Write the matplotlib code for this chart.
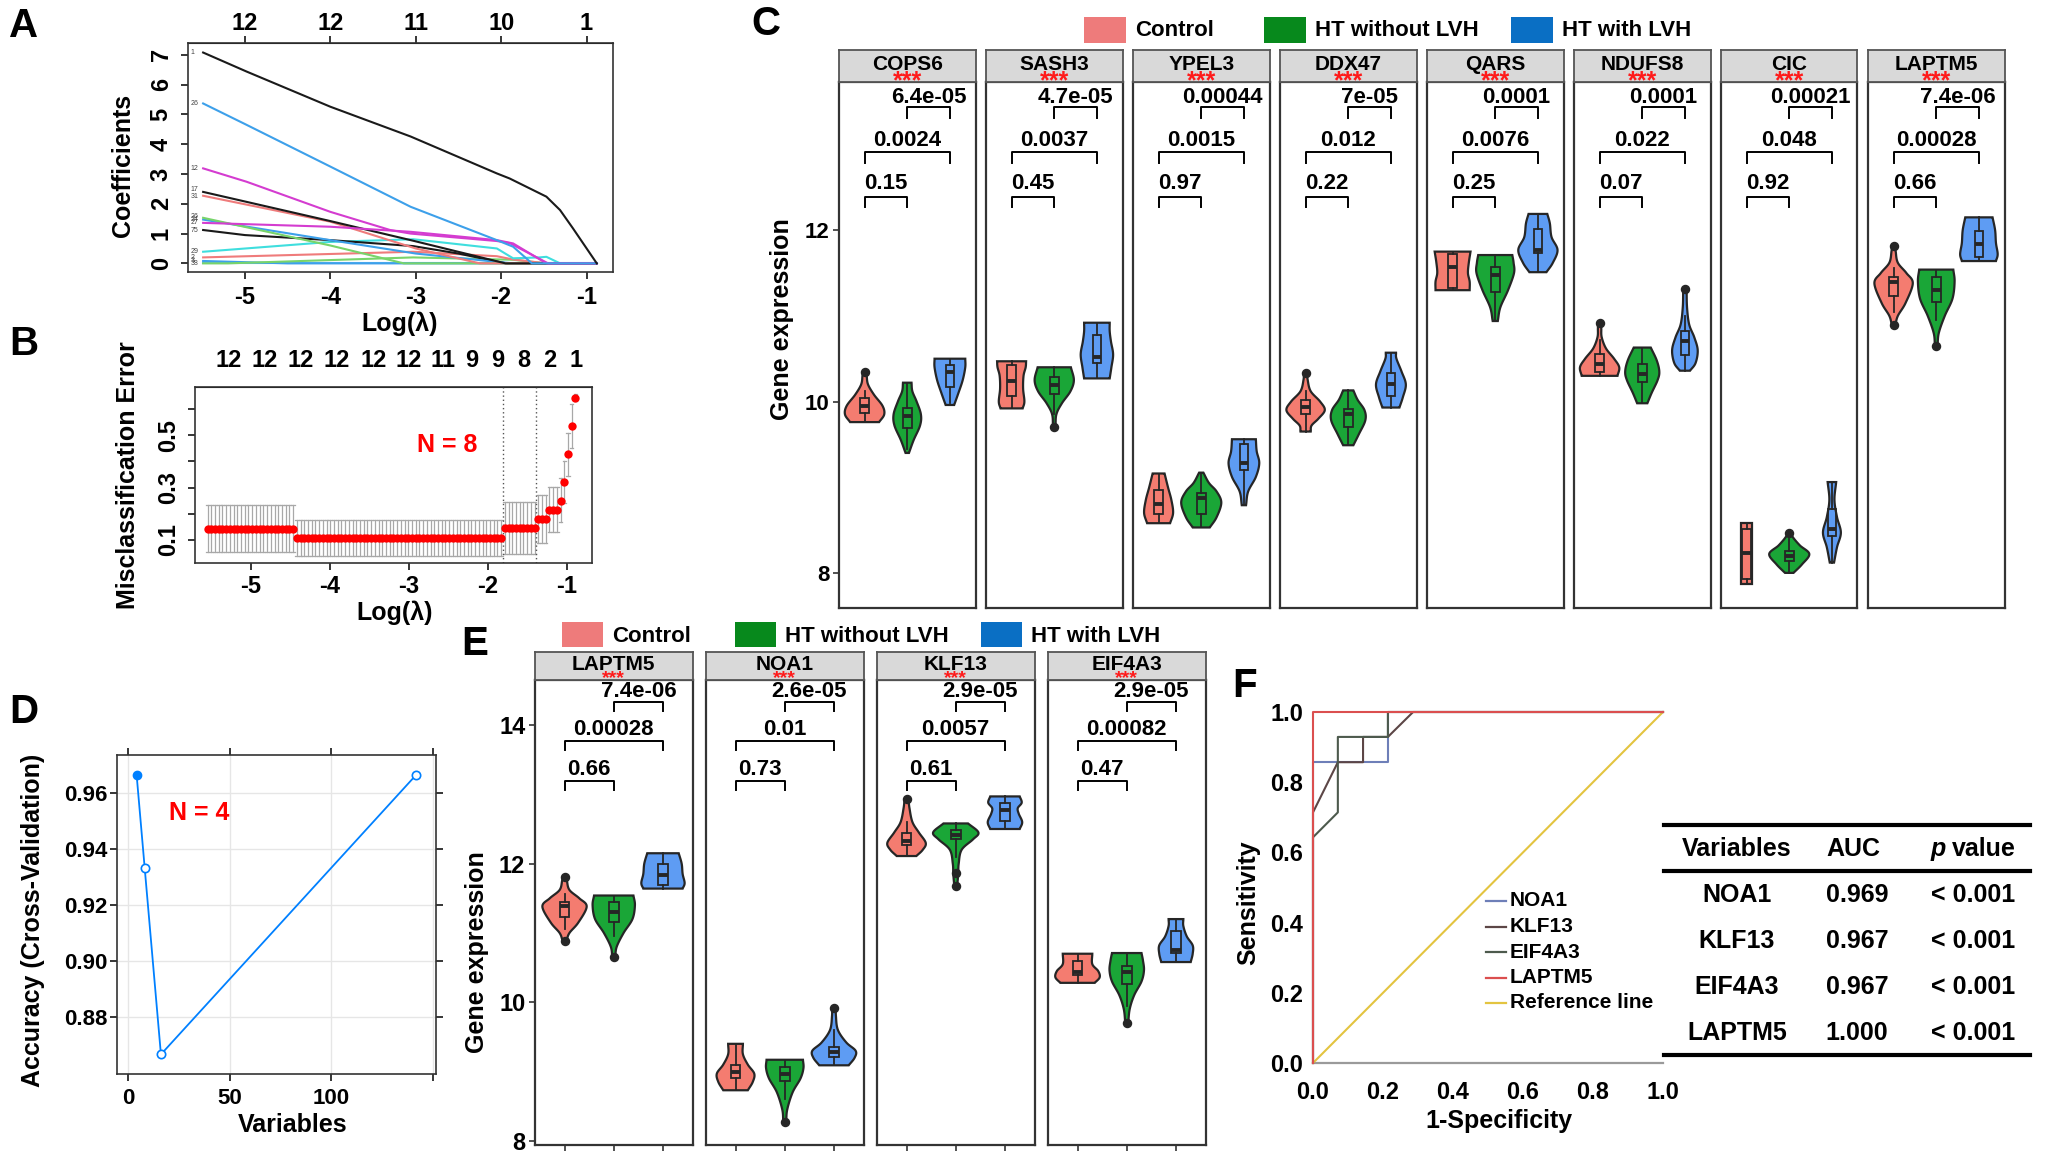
import numpy as np
import matplotlib
matplotlib.use('Agg')
import matplotlib.pyplot as plt
from matplotlib.patches import Rectangle, Polygon
from matplotlib.lines import Line2D

W, H = 2050, 1161
plt.rcParams['font.family'] = ['Liberation Sans', 'DejaVu Sans']
plt.rcParams['font.weight'] = 'bold'
plt.rcParams['axes.unicode_minus'] = False
fig = plt.figure(figsize=(W / 100, H / 100), dpi=100)

# ------------------------------------------------------------------ data
# Panel A: LASSO coefficient paths (log lambda, coefficient)
A_top_labels = ['12', '12', '11', '10', '1']
A_black1_x = [-5.49, -4.98, -4.0, -3.06, -2.05, -1.90, -1.47, -1.31, -1.16, -0.88]
A_black1_y = [7.08, 6.44, 5.26, 4.26, 3.02, 2.85, 2.24, 1.79, 1.18, 0.0]
A_blue1_x = [-5.49, -4.98, -4.0, -3.06, -2.05, -1.86, -1.64, -0.88]
A_blue1_y = [5.37, 4.65, 3.25, 1.90, 0.78, 0.56, 0.0, 0.0]
A_mag1_x = [-5.49, -4.98, -4.0, -3.3, -3.06, -2.05, -1.9, -1.45, -0.88]
A_mag1_y = [3.19, 2.74, 1.73, 1.12, 1.0, 0.75, 0.68, 0.0, 0.0]
A_mag2_x = [-5.49, -4.0, -3.06, -2.05, -1.86, -1.47, -0.88]
A_mag2_y = [1.36, 1.23, 1.06, 0.78, 0.67, 0.0, 0.0]
A_black2_x = [-5.49, -4.0, -3.03, -2.05, -1.95, -0.88]
A_black2_y = [2.40, 1.42, 0.76, 0.07, 0.0, 0.0]
A_salmon1_x = [-5.49, -4.0, -3.0, -2.25, -0.88]
A_salmon1_y = [2.27, 1.40, 0.50, 0.0, 0.0]
A_green1_x = [-5.49, -4.0, -3.14, -0.88]
A_green1_y = [1.53, 0.60, 0.0, 0.0]
A_blue2_x = [-5.49, -4.0, -3.0, -2.05, -1.86, -0.88]
A_blue2_y = [1.47, 0.78, 0.33, 0.05, 0.0, 0.0]
A_black3_x = [-5.49, -5.0, -4.0, -3.03, -2.5, -2.05, -1.93, -0.88]
A_black3_y = [1.12, 0.95, 0.78, 0.58, 0.33, 0.06, 0.0, 0.0]
A_cyan_x = [-5.49, -4.0, -3.03, -2.05, -1.86, -1.55, -1.47, -1.31, -0.88]
A_cyan_y = [0.39, 0.72, 0.81, 0.50, 0.17, 0.20, 0.22, 0.0, 0.0]
A_salmon2_x = [-5.49, -3.03, -2.05, -1.86, -1.47, -0.88]
A_salmon2_y = [0.20, 0.39, 0.24, 0.13, 0.0, 0.0]
A_green2_x = [-5.49, -5.2, -3.03, -2.0, -1.86, -1.47, -0.88]
A_green2_y = [0.0, 0.0, 0.20, 0.13, 0.12, 0.0, 0.0]
A_blue3_x = [-5.49, -4.5, -0.88]
A_blue3_y = [0.08, 0.0, 0.0]
A_zero_x = [-5.49, -0.88]
A_zero_y = [0.0, 0.0]
A_path_labels = ['1', '26', '12', '17', '31', '26', '24', '27', '75', '29', '2', '3', '38']
A_path_label_y = [7.08, 5.37, 3.19, 2.47, 2.25, 1.58, 1.47, 1.36, 1.12, 0.39, 0.20, 0.08, -0.02]

# Panel B: cross-validated misclassification error (runs along the lambda grid)
B_loglam = np.linspace(-5.55, -0.89, 100)
B_run_lengths = [24, 56, 9, 3, 3, 1, 1, 1, 1, 1]
B_err = [0.143, 0.108, 0.146, 0.180, 0.215, 0.250, 0.321, 0.428, 0.535, 0.642]
B_lo = [0.053, 0.038, 0.047, 0.090, 0.130, 0.168, 0.240, 0.345, 0.452, 0.630]
B_hi = [0.233, 0.177, 0.245, 0.272, 0.302, 0.335, 0.400, 0.510, 0.620, 0.656]
B_top_pos = [-5.28, -4.83, -4.37, -3.91, -3.45, -3.0, -2.57, -2.20, -1.87, -1.55, -1.22, -0.88]
B_top_labels = ['12', '12', '12', '12', '12', '12', '11', '9', '9', '8', '2', '1']
B_vlines = [-1.81, -1.39]

# Panel D: RFE accuracy
D_vars = [4, 8, 16, 142]
D_acc = [0.9667, 0.9333, 0.8667, 0.9667]

# Groups
groups = ['Control', 'HT without LVH', 'HT with LVH']
legend_colors = ['#EE7B7B', '#07891C', '#0A6FC4']
violin_colors = ['#F47C70', '#1AA637', '#5E9CF3']

# Violin profiles: (expression, half width) from bottom to top; box = (q1, median, q3, low, high)
COPS6_violin = [[(9.76, 0.34), (9.85, 0.46), (9.95, 0.42), (10.08, 0.22), (10.2, 0.08), (10.3, 0.05), (10.34, 0.04)],
                [(9.40, 0.04), (9.55, 0.15), (9.72, 0.30), (9.85, 0.32), (10.0, 0.22), (10.12, 0.12), (10.22, 0.10)],
                [(9.96, 0.10), (10.1, 0.20), (10.25, 0.30), (10.4, 0.36), (10.5, 0.36)]]
COPS6_box = [(9.87, 9.95, 10.04, 9.76, 10.12), (9.69, 9.83, 9.93, 9.45, 10.22), (10.17, 10.34, 10.43, 9.98, 10.5)]
COPS6_out = [[10.34], [], []]
COPS6_p = ['0.15', '0.0024', '6.4e-05']

SASH3_violin = [[(9.92, 0.26), (10.0, 0.30), (10.15, 0.27), (10.3, 0.28), (10.4, 0.33), (10.47, 0.34)],
                [(9.70, 0.03), (9.85, 0.05), (9.98, 0.18), (10.12, 0.38), (10.25, 0.46), (10.40, 0.39)],
                [(10.27, 0.30), (10.4, 0.34), (10.55, 0.38), (10.7, 0.33), (10.82, 0.30), (10.92, 0.30)]]
SASH3_box = [(10.06, 10.24, 10.43, 9.92, 10.47), (10.09, 10.19, 10.29, 9.85, 10.40), (10.45, 10.52, 10.78, 10.27, 10.92)]
SASH3_out = [[], [9.70], []]
SASH3_p = ['0.45', '0.0037', '4.7e-05']

YPEL3_violin = [[(8.58, 0.27), (8.7, 0.34), (8.85, 0.30), (9.0, 0.22), (9.16, 0.14)],
                [(8.53, 0.20), (8.65, 0.36), (8.82, 0.47), (8.95, 0.36), (9.05, 0.18), (9.17, 0.05)],
                [(8.79, 0.05), (8.95, 0.10), (9.12, 0.28), (9.28, 0.36), (9.42, 0.30), (9.56, 0.28)]]
YPEL3_box = [(8.69, 8.80, 8.97, 8.58, 9.16), (8.69, 8.87, 8.93, 8.53, 9.17), (9.20, 9.28, 9.51, 8.79, 9.56)]
YPEL3_out = [[], [], []]
YPEL3_p = ['0.97', '0.0015', '0.00044']

DDX47_violin = [[(9.65, 0.12), (9.72, 0.14), (9.80, 0.30), (9.90, 0.45), (10.0, 0.34), (10.12, 0.12), (10.25, 0.05), (10.33, 0.04)],
                [(9.49, 0.12), (9.62, 0.25), (9.78, 0.40), (9.90, 0.38), (10.02, 0.22), (10.13, 0.12)],
                [(9.93, 0.20), (10.05, 0.28), (10.2, 0.35), (10.35, 0.25), (10.5, 0.13), (10.57, 0.12)]]
DDX47_box = [(9.85, 9.94, 10.02, 9.65, 10.12), (9.70, 9.86, 9.91, 9.49, 10.13), (10.07, 10.20, 10.33, 9.93, 10.57)]
DDX47_out = [[10.33], [], []]
DDX47_p = ['0.22', '0.012', '7e-05']

QARS_violin = [[(11.30, 0.40), (11.4, 0.40), (11.5, 0.36), (11.62, 0.38), (11.75, 0.42)],
               [(10.94, 0.06), (11.1, 0.12), (11.3, 0.30), (11.5, 0.44), (11.62, 0.43), (11.71, 0.40)],
               [(11.51, 0.20), (11.62, 0.35), (11.77, 0.46), (11.92, 0.32), (12.08, 0.28), (12.19, 0.22)]]
QARS_box = [(11.32, 11.57, 11.72, 11.30, 11.75), (11.28, 11.48, 11.57, 10.94, 11.71), (11.73, 11.77, 12.01, 11.51, 12.19)]
QARS_out = [[], [], []]
QARS_p = ['0.25', '0.0076', '0.0001']

NDUFS8_violin = [[(10.30, 0.42), (10.4, 0.46), (10.5, 0.34), (10.62, 0.15), (10.75, 0.05), (10.85, 0.04), (10.92, 0.04)],
                 [(9.98, 0.12), (10.1, 0.22), (10.25, 0.36), (10.35, 0.40), (10.48, 0.34), (10.63, 0.20)],
                 [(10.36, 0.12), (10.45, 0.25), (10.6, 0.30), (10.75, 0.22), (10.9, 0.10), (11.1, 0.05), (11.31, 0.04)]]
NDUFS8_box = [(10.34, 10.44, 10.56, 10.30, 10.72), (10.23, 10.32, 10.44, 9.98, 10.63), (10.54, 10.71, 10.82, 10.36, 11.0)]
NDUFS8_out = [[10.92], [], [11.31]]
NDUFS8_p = ['0.07', '0.022', '0.0001']

CIC_violin = [[(7.87, 0.13), (8.2, 0.13), (8.58, 0.13)],
              [(8.0, 0.10), (8.1, 0.30), (8.22, 0.47), (8.32, 0.25), (8.42, 0.08), (8.47, 0.05)],
              [(8.12, 0.05), (8.3, 0.12), (8.47, 0.21), (8.65, 0.12), (8.85, 0.06), (9.06, 0.10)]]
CIC_box = [(7.93, 8.23, 8.51, 7.87, 8.58), (8.14, 8.20, 8.25, 8.0, 8.40), (8.43, 8.51, 8.75, 8.12, 9.06)]
CIC_out = [[], [8.47], []]
CIC_p = ['0.92', '0.048', '0.00021']

LAPTM5_violin = [[(10.89, 0.04), (11.0, 0.10), (11.15, 0.28), (11.38, 0.45), (11.5, 0.30), (11.62, 0.10), (11.75, 0.05), (11.81, 0.04)],
                 [(10.65, 0.03), (10.8, 0.06), (11.0, 0.20), (11.2, 0.38), (11.4, 0.43), (11.54, 0.40)],
                 [(11.64, 0.40), (11.72, 0.44), (11.85, 0.40), (12.0, 0.38), (12.15, 0.32)]]
LAPTM5_box = [(11.23, 11.39, 11.45, 11.05, 11.56), (11.16, 11.30, 11.45, 10.95, 11.54), (11.69, 11.84, 11.99, 11.64, 12.15)]
LAPTM5_out = [[10.89, 11.81], [10.65], []]
LAPTM5_p = ['0.66', '0.00028', '7.4e-06']

NOA1_violin = [[(8.73, 0.25), (8.85, 0.35), (8.97, 0.38), (9.1, 0.25), (9.25, 0.15), (9.40, 0.15)],
               [(8.27, 0.03), (8.45, 0.05), (8.7, 0.16), (8.9, 0.32), (9.05, 0.38), (9.17, 0.37)],
               [(9.09, 0.30), (9.2, 0.42), (9.3, 0.44), (9.42, 0.25), (9.6, 0.08), (9.8, 0.04), (9.91, 0.04)]]
NOA1_box = [(8.90, 9.0, 9.09, 8.73, 9.40), (8.87, 8.97, 9.07, 8.6, 9.17), (9.21, 9.28, 9.35, 9.09, 9.6)]
NOA1_out = [[], [8.27], [9.91]]
NOA1_p = ['0.73', '0.01', '2.6e-05']

KLF13_violin = [[(12.11, 0.20), (12.2, 0.33), (12.3, 0.39), (12.45, 0.25), (12.6, 0.12), (12.8, 0.06), (12.93, 0.04)],
                [(11.68, 0.03), (11.85, 0.05), (12.0, 0.06), (12.2, 0.12), (12.35, 0.35), (12.45, 0.46), (12.58, 0.25)],
                [(12.50, 0.30), (12.6, 0.35), (12.72, 0.28), (12.8, 0.26), (12.88, 0.34), (12.97, 0.30)]]
KLF13_box = [(12.27, 12.32, 12.44, 12.11, 12.6), (12.35, 12.42, 12.49, 12.1, 12.58), (12.61, 12.77, 12.88, 12.50, 12.97)]
KLF13_out = [[12.93], [11.68, 11.87], []]
KLF13_p = ['0.61', '0.0057', '2.9e-05']

EIF4A3_violin = [[(10.28, 0.35), (10.36, 0.45), (10.45, 0.42), (10.55, 0.30), (10.70, 0.30)],
                 [(9.70, 0.03), (9.9, 0.06), (10.1, 0.15), (10.3, 0.30), (10.46, 0.35), (10.6, 0.33), (10.71, 0.30)],
                 [(10.58, 0.30), (10.7, 0.34), (10.82, 0.34), (10.95, 0.22), (11.1, 0.15), (11.20, 0.15)]]
EIF4A3_box = [(10.39, 10.43, 10.59, 10.28, 10.70), (10.26, 10.43, 10.52, 9.95, 10.71), (10.71, 10.76, 11.03, 10.58, 11.20)]
EIF4A3_out = [[], [9.70], []]
EIF4A3_p = ['0.47', '0.00082', '2.9e-05']

C_genes = ['COPS6', 'SASH3', 'YPEL3', 'DDX47', 'QARS', 'NDUFS8', 'CIC', 'LAPTM5']
E_genes = ['LAPTM5', 'NOA1', 'KLF13', 'EIF4A3']
C_yticks = [8, 10, 12]
E_yticks = [8, 10, 12, 14]

# Panel F: ROC curves (1-specificity, sensitivity)
F_noa1_x = [0, 0, 0.214, 0.214, 1]
F_noa1_y = [0, 0.857, 0.857, 1.0, 1.0]
F_klf13_x = [0, 0, 0.071, 0.143, 0.143, 0.214, 0.286, 1]
F_klf13_y = [0, 0.714, 0.857, 0.857, 0.929, 0.929, 1.0, 1.0]
F_eif4a3_x = [0, 0, 0.071, 0.071, 0.214, 0.214, 1]
F_eif4a3_y = [0, 0.643, 0.714, 0.929, 0.929, 1.0, 1.0]
F_laptm5_x = [0, 0, 1]
F_laptm5_y = [0, 1.0, 1.0]
F_ref_x = [0, 1]
F_ref_y = [0, 1]
F_names = ['NOA1', 'KLF13', 'EIF4A3', 'LAPTM5', 'Reference line']
F_colors = ['#6E7FB8', '#5C4646', '#4D5A4D', '#DB4F4F', '#E3C440']
T_vars = ['NOA1', 'KLF13', 'EIF4A3', 'LAPTM5']
T_auc = ['0.969', '0.967', '0.967', '1.000']
T_p = ['< 0.001', '< 0.001', '< 0.001', '< 0.001']


# ------------------------------------------------------------------ helpers
def rect(l, t, r, b):
    return [l / W, 1 - b / H, (r - l) / W, (b - t) / H]


def ftext(x, y, s, **kw):
    kw.setdefault('ha', 'center')
    kw.setdefault('va', 'center')
    fig.text(x / W, 1 - y / H, s, **kw)


def fline(x1, y1, x2, y2, **kw):
    fig.add_artist(Line2D([x1 / W, x2 / W], [1 - y1 / H, 1 - y2 / H], **kw))


def frect(l, t, r, b, **kw):
    fig.add_artist(Rectangle((l / W, 1 - b / H), (r - l) / W, (b - t) / H,
                             transform=fig.transFigure, **kw))


def catmull(points, n=14):
    P = np.array(points, float)
    if len(P) < 3:
        return P
    P2 = np.vstack([2 * P[0] - P[1], P, 2 * P[-1] - P[-2]])
    out = []
    for i in range(1, len(P2) - 2):
        p0, p1, p2, p3 = P2[i - 1], P2[i], P2[i + 1], P2[i + 2]
        for t in np.linspace(0, 1, n, endpoint=False):
            t2 = t * t
            t3 = t2 * t
            out.append(0.5 * ((2 * p1) + (-p0 + p2) * t + (2 * p0 - 5 * p1 + 4 * p2 - p3) * t2
                              + (-p0 + 3 * p1 - 3 * p2 + p3) * t3))
    out.append(P[-1])
    return np.array(out)


EC = '#262626'


def violin(ax, c, knots, box, outs, fill):
    pts = catmull(knots)
    ys = pts[:, 0]
    ws = np.clip(pts[:, 1], 0.012, None)
    verts = np.concatenate([np.column_stack([c + ws, ys]),
                            np.column_stack([c - ws[::-1], ys[::-1]])])
    ax.add_patch(Polygon(verts, closed=True, facecolor=fill, edgecolor=EC, lw=1.6, zorder=2))
    q1, med, q3, lo, hi = box
    bw = 0.1
    ax.plot([c, c], [q3, hi], color=EC, lw=1.3, zorder=3)
    ax.plot([c, c], [lo, q1], color=EC, lw=1.3, zorder=3)
    ax.add_patch(Rectangle((c - bw, q1), 2 * bw, q3 - q1, facecolor='none', edgecolor=EC, lw=1.3, zorder=3))
    ax.plot([c - bw, c + bw], [med, med], color=EC, lw=2.8, zorder=3, solid_capstyle='butt')
    for o in outs:
        ax.plot(c, o, 'o', color=EC, ms=5.8, zorder=4)


def brackets(ax, pvals, levels, fs):
    pairs = [(1, 2), (1, 3), (2, 3)]
    for (a, b), p, (top, leg, ty) in zip(pairs, pvals, levels):
        ax.plot([a, a, b, b], [leg, top, top, leg], color='black', lw=1.4, zorder=3)
        ax.text((a + b) / 2, ty, p, ha='center', va='center', fontsize=fs, fontweight='bold')


def facet_panels(genes, lefts, width, top, strip_top, bottom, ylim, yticks, levels, xticks,
                 stars_y, stars_fs, tick_fs):
    for i, g in enumerate(genes):
        l = lefts[i]
        r = l + width
        ax = fig.add_axes(rect(l, top, r, bottom))
        ax.set_xlim(0.4, 3.6)
        ax.set_ylim(*ylim)
        for s in ax.spines.values():
            s.set_color('#333333')
            s.set_linewidth(1.6)
        vio = globals()[g + '_violin']
        bxs = globals()[g + '_box']
        outs = globals()[g + '_out']
        for k in range(3):
            violin(ax, k + 1, vio[k], bxs[k], outs[k], violin_colors[k])
        brackets(ax, globals()[g + '_p'], levels, 16)
        ax.set_yticks(yticks)
        if i == 0:
            ax.set_yticklabels([str(t) for t in yticks])
            ax.tick_params(axis='y', length=4, width=1.2, pad=3, labelsize=tick_fs, colors='#333333',
                           labelcolor='black')
        else:
            ax.tick_params(axis='y', length=0, labelleft=False)
        if xticks:
            ax.set_xticks([1, 2, 3])
            ax.tick_params(axis='x', length=4, width=1.2, labelbottom=False, colors='#333333')
        else:
            ax.set_xticks([])
        # strip
        sax = fig.add_axes(rect(l, strip_top, r, top))
        sax.set_facecolor('#D9D9D9')
        sax.set_xticks([])
        sax.set_yticks([])
        for s in sax.spines.values():
            s.set_color('#555555')
            s.set_linewidth(1.3)
        ftext((l + r) / 2, (strip_top + top) / 2 - 1, g, fontsize=15, fontweight='bold')
        # asterisks: glyph sits high in the em box, so place by baseline
        ftext((l + r) / 2, stars_y + 0.57 * stars_fs * 100 / 72, '***', fontsize=stars_fs,
              color='#FF1A1A', fontweight='bold', va='baseline')


# ------------------------------------------------------------------ Panel A
axA = fig.add_axes(rect(188, 43, 613, 272))
A_series = [
    (A_zero_x, A_zero_y, '#5CB6F2'),
    (A_blue3_x, A_blue3_y, '#3DA0EA'),
    (A_green2_x, A_green2_y, '#78D46A'),
    (A_salmon2_x, A_salmon2_y, '#EF7B7B'),
    (A_cyan_x, A_cyan_y, '#3FDEDE'),
    (A_black3_x, A_black3_y, '#1A1A1A'),
    (A_blue2_x, A_blue2_y, '#3DA0EA'),
    (A_green1_x, A_green1_y, '#78D46A'),
    (A_salmon1_x, A_salmon1_y, '#EF7B7B'),
    (A_black2_x, A_black2_y, '#1A1A1A'),
    (A_mag2_x, A_mag2_y, '#D43CD0'),
    (A_mag1_x, A_mag1_y, '#D43CD0'),
    (A_blue1_x, A_blue1_y, '#3DA0EA'),
    (A_black1_x, A_black1_y, '#1A1A1A'),
]
for xs, ys, col in A_series:
    axA.plot(xs, ys, color=col, lw=1.5)
for lab, yv in zip(A_path_labels, A_path_label_y):
    axA.text(-5.635, yv, lab, fontsize=5, color='#444444', ha='left', va='center', fontweight='normal')
axA.set_xlim(-5.667, -0.69)
axA.set_ylim(-0.29, 7.40)
axA.set_xticks([-5, -4, -3, -2, -1])
axA.set_yticks(range(8))
axA.tick_params(axis='both', length=5, width=1.1, labelsize=17)
axA.tick_params(axis='x', pad=5)
axA.tick_params(axis='y', pad=6)
for lab in axA.get_yticklabels():
    lab.set_rotation(90)
    lab.set_va('center')
secA = axA.secondary_xaxis('top')
secA.set_xticks([-5, -4, -3, -2, -1])
secA.set_xticklabels(A_top_labels)
secA.tick_params(length=5, width=1.1, labelsize=17, pad=1)
for s in axA.spines.values():
    s.set_linewidth(1.2)
    s.set_color('#333333')
ftext(123, 165, 'Coefficients', rotation=90, fontsize=18)
ftext(400, 324, 'Log(λ)', fontsize=18)

# ------------------------------------------------------------------ Panel B
axB = fig.add_axes(rect(195, 387, 592, 563))
idx = 0
for n, e, lo, hi in zip(B_run_lengths, B_err, B_lo, B_hi):
    xs = B_loglam[idx:idx + n]
    for xv in xs:
        axB.plot([xv, xv], [lo, hi], color='#A8A8A8', lw=0.9, zorder=1)
        axB.plot([xv - 0.022, xv + 0.022], [lo, lo], color='#A8A8A8', lw=0.9, zorder=1)
        axB.plot([xv - 0.022, xv + 0.022], [hi, hi], color='#A8A8A8', lw=0.9, zorder=1)
    axB.plot(xs, [e] * len(xs), 'o', color='#FF0000', ms=6, mec='none', zorder=3)
    idx += n
for v in B_vlines:
    axB.axvline(v, color='#555555', lw=1.0, ls=(0, (1, 2)))
axB.set_xlim(-5.71, -0.68)
axB.set_ylim(0.012, 0.684)
axB.set_xticks([-5, -4, -3, -2, -1])
axB.set_yticks([0.1, 0.2, 0.3, 0.4, 0.5, 0.6])
axB.set_yticklabels(['0.1', '', '0.3', '', '0.5', ''])
axB.tick_params(axis='both', length=5, width=1.1, labelsize=17)
axB.tick_params(axis='x', pad=4)
axB.tick_params(axis='y', pad=6)
for lab in axB.get_yticklabels():
    lab.set_rotation(90)
    lab.set_va('center')
secB = axB.secondary_xaxis('top')
secB.set_xticks(B_top_pos)
secB.set_xticklabels(B_top_labels)
secB.tick_params(length=0, labelsize=17, pad=11)
for s in axB.spines.values():
    s.set_linewidth(1.2)
    s.set_color('#333333')
axB.text(-2.52, 0.463, 'N = 8', color='#FF0000', fontsize=18, ha='center', va='center')
ftext(128, 475, 'Misclassification Error', rotation=90, fontsize=18)
ftext(395, 613, 'Log(λ)', fontsize=18)

# ------------------------------------------------------------------ Panel D
axD = fig.add_axes(rect(117, 755, 436, 1074))
axD.set_xlim(-5.66, 151.66)
axD.set_ylim(0.8597, 0.9737)
axD.set_xticks([0, 50, 100, 150])
axD.set_xticklabels(['0', '50', '100', ''])
axD.set_yticks([0.88, 0.90, 0.92, 0.94, 0.96])
axD.set_yticklabels(['0.88', '0.90', '0.92', '0.94', '0.96'])
axD.grid(True, color='#E6E6E6', lw=1.0)
axD.set_axisbelow(True)
axD.plot(D_vars, D_acc, color='#0080FF', lw=1.3, zorder=3)
axD.plot(D_vars[1:], D_acc[1:], 'o', mfc='white', mec='#0080FF', ms=6, mew=1.2, zorder=4)
axD.plot(D_vars[:1], D_acc[:1], 'o', color='#0080FF', ms=6, zorder=4)
axD.tick_params(axis='both', which='both', top=True, right=True, length=5, width=1.1,
                labelsize=16, direction='out')
axD.tick_params(axis='x', pad=5)
axD.tick_params(axis='y', pad=2)
for s in axD.spines.values():
    s.set_linewidth(1.2)
    s.set_color('#333333')
axD.text(35, 0.953, 'N = 4', color='#FF0000', fontsize=18, ha='center', va='center')
ftext(33, 920, 'Accuracy (Cross-Validation)', rotation=90, fontsize=18)
ftext(293, 1125, 'Variables', fontsize=18)

# ------------------------------------------------------------------ Panel C
C_lefts = [839 + 147.0 * i for i in range(8)]
C_levels = [(12.385, 12.27, 12.55), (12.91, 12.79, 13.05), (13.435, 13.31, 13.55)]
facet_panels(C_genes, C_lefts, 136.5, 82, 50, 608, (7.59, 13.73), C_yticks, C_levels, False,
             74, 18, 16)
ftext(782, 319, 'Gene expression', rotation=90, fontsize=18)
C_leg_x = [1084, 1264, 1511]
for x0, col, g in zip(C_leg_x, legend_colors, groups):
    frect(x0, 17, x0 + 42, 43, facecolor=col, edgecolor='none')
    ftext(x0 + 51, 31, g, ha='left', fontsize=16)

# ------------------------------------------------------------------ Panel E
E_lefts = [535 + 171.0 * i for i in range(4)]
E_levels = [(13.195, 13.06, 13.36), (13.773, 13.64, 13.94), (14.337, 14.207, 14.48)]
facet_panels(E_genes, E_lefts, 157.5, 680, 652, 1145, (7.94, 14.65), E_yticks, E_levels, True,
             672, 14, 17)
ftext(477, 952, 'Gene expression', rotation=90, fontsize=18)
E_leg_x = [562, 735, 981]
for x0, col, g in zip(E_leg_x, legend_colors, groups):
    frect(x0, 622, x0 + 41, 647, facecolor=col, edgecolor='none')
    ftext(x0 + 50, 637, g, ha='left', fontsize=16)

# ------------------------------------------------------------------ Panel F
axF = fig.add_axes(rect(1313, 712, 1663, 1063))
axF.set_xlim(0, 1)
axF.set_ylim(0, 1)
for s in axF.spines.values():
    s.set_visible(False)
axF.plot([0, 1], [0, 0], color='#9A9A9A', lw=1.6, clip_on=False)
F_series = [(F_ref_x, F_ref_y), (F_noa1_x, F_noa1_y), (F_klf13_x, F_klf13_y),
            (F_eif4a3_x, F_eif4a3_y), (F_laptm5_x, F_laptm5_y)]
F_cols = [F_colors[4], F_colors[0], F_colors[1], F_colors[2], F_colors[3]]
for (xs, ys), col in zip(F_series, F_cols):
    axF.plot(xs, ys, color=col, lw=1.5, clip_on=False)
axF.set_xticks([0, 0.2, 0.4, 0.6, 0.8, 1.0])
axF.set_xticklabels(['0.0', '0.2', '0.4', '0.6', '0.8', '1.0'])
axF.set_yticks([0, 0.2, 0.4, 0.6, 0.8, 1.0])
axF.set_yticklabels(['0.0', '0.2', '0.4', '0.6', '0.8', '1.0'])
axF.tick_params(axis='both', length=0, labelsize=17)
axF.tick_params(axis='x', pad=13)
axF.tick_params(axis='y', pad=7)
ftext(1248, 903, 'Sensitivity', rotation=90, fontsize=18)
ftext(1499, 1121, '1-Specificity', fontsize=18)
for k, (nm, col) in enumerate(zip(F_names, F_colors)):
    yy = 901 + 25.5 * k
    fline(1486, yy, 1506, yy, color=col, lw=1.6)
    ftext(1510, yy, nm, ha='left', fontsize=15)

# table
fline(1664, 825, 2030, 825, color='black', lw=3)
fline(1664, 871, 2030, 871, color='black', lw=3)
fline(1664, 1055, 2030, 1055, color='black', lw=3)
ftext(1737, 849, 'Variables', fontsize=18)
ftext(1853, 849, 'AUC', fontsize=18)
ftext(1931, 849, 'p', ha='left', fontsize=18, style='italic')
ftext(1952, 849, 'value', ha='left', fontsize=18)
for k in range(4):
    yy = 895 + 46 * k
    ftext(1737, yy, T_vars[k], fontsize=18)
    ftext(1857, yy, T_auc[k], fontsize=18)
    ftext(1973, yy, T_p[k], fontsize=18)

# panel letters
for lab, x, y in [('A', 24, 26), ('B', 24, 344), ('C', 766, 24), ('D', 24, 712),
                  ('E', 475, 644), ('F', 1245, 686)]:
    ftext(x, y, lab, fontsize=29)

fig.savefig('out.png', dpi=100)
